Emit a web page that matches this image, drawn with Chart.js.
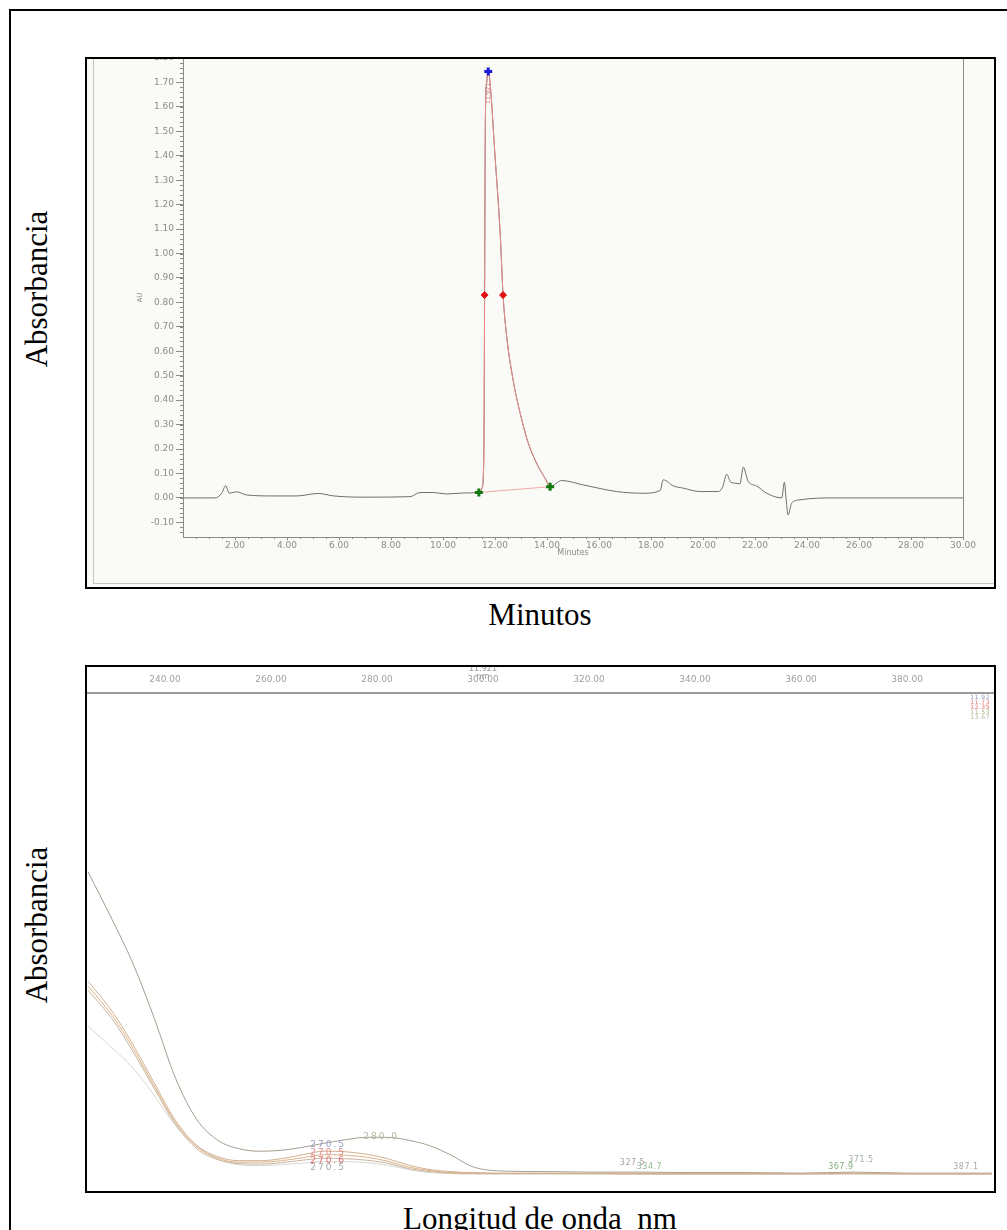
<!DOCTYPE html>
<html>
<head>
<meta charset="utf-8">
<script src="https://cdn.jsdelivr.net/npm/chart.js@4.4.1/dist/chart.umd.min.js"></script>
<style>
  body { margin: 0; width: 1007px; height: 1230px; overflow: hidden; background: #fff; position: relative; font-family: "Liberation Serif", serif; }
  .frame { position: absolute; left: 9px; top: 9px; width: 1020px; height: 1300px; border-left: 2px solid #000; border-top: 2px solid #000; }
  .box { position: absolute; border: 2px solid #000; box-sizing: border-box; pointer-events: none; }
  canvas { position: absolute; }
  .inner { position: absolute; border-left: 1px solid #c4c4c0; border-bottom: 1px solid #c4c4c0; }
  .txt { position: absolute; font-size: 31px; color: #000; white-space: pre; transform: translate(-50%, -50%); }
  .vtxt { position: absolute; font-size: 31px; color: #000; white-space: pre; transform: translate(-50%, -50%) rotate(-90deg); }
</style>
</head>
<body>
<div class="frame"></div>

<canvas id="chrom" width="911" height="532" style="left:85px; top:57px; background:#fafaf6;"></canvas>
<div class="inner" style="left:93px; top:59px; width:900px; height:524px;"></div>
<div class="box" style="left:85px; top:57px; width:911px; height:532px;"></div>

<canvas id="spectra" width="911" height="528" style="left:85px; top:665px; background:#fff;"></canvas>
<div class="box" style="left:85px; top:665px; width:911px; height:528px;"></div>

<div class="vtxt" style="left:37px; top:289px;">Absorbancia</div>
<div class="txt" style="left:540px; top:615px;">Minutos</div>
<div class="vtxt" style="left:37px; top:925px;">Absorbancia</div>
<div class="txt" style="left:540px; top:1219px;">Longitud de onda  nm</div>

<script>
"use strict";

// ---- chromatogram (top) ----
const chromTime = [0.00, 1.23, 1.49, 1.64, 1.78, 2.06, 2.45, 3.47, 4.37, 5.20, 5.80, 6.93, 8.73, 9.12, 9.63, 10.14, 10.78,
    11.38, 11.50, 11.55, 11.58, 11.60, 11.63, 11.68, 11.74, 11.80, 12.00, 12.20, 12.31, 12.45, 12.70, 12.96, 13.28, 13.60, 13.92, 14.12,
    14.56, 15.40, 16.68, 17.70, 18.35, 18.47, 18.86, 19.24, 19.88, 20.59, 20.76, 20.91, 21.07, 21.27, 21.42, 21.55, 21.74, 22.06, 22.45,
    23.03, 23.13, 23.20, 23.27, 23.41, 23.73, 25.00, 30.00];
const chromAu = [0.000, 0.000, 0.019, 0.050, 0.019, 0.025, 0.012, 0.008, 0.008, 0.018, 0.008, 0.003, 0.005, 0.022, 0.022, 0.016, 0.020,
    0.022, 0.040, 0.090, 0.300, 0.830, 1.550, 1.700, 1.745, 1.710, 1.400, 1.080, 0.830, 0.660, 0.480, 0.350, 0.224, 0.142, 0.081, 0.046,
    0.071, 0.053, 0.026, 0.019, 0.030, 0.074, 0.049, 0.040, 0.026, 0.026, 0.046, 0.097, 0.064, 0.060, 0.057, 0.126, 0.067, 0.049, 0.019,
    0.000, 0.064, -0.008, -0.070, -0.022, -0.008, 0.000, 0.000];
const peakStart = 11.38;
const peakEnd = 14.12;
const baseMarkTime = [11.38, 14.12];
const baseMarkAu = [0.022, 0.046];
const halfMarkTime = [11.60, 12.31];
const halfMarkAu = [0.83, 0.83];
const apexTime = [11.74];
const apexAu = [1.745];
const apexLabel = ["11.921"];
const timeTicks = [2, 4, 6, 8, 10, 12, 14, 16, 18, 20, 22, 24, 26, 28, 30];
const auTicks = [-0.10, 0.00, 0.10, 0.20, 0.30, 0.40, 0.50, 0.60, 0.70, 0.80, 0.90, 1.00, 1.10, 1.20, 1.30, 1.40, 1.50, 1.60, 1.70, 1.80];

// ---- UV spectra (bottom) ----
const wavelengths = [225.5, 230, 234, 238, 242, 246, 250, 254, 258, 262, 266, 270, 274, 278, 282, 286, 290, 294, 298, 304, 312, 320, 330, 340, 350, 360, 370, 380, 390, 396];
const spec1192 = [0.420, 0.360, 0.292, 0.215, 0.140, 0.090, 0.067, 0.059, 0.059, 0.063, 0.071, 0.078, 0.077, 0.072, 0.063, 0.050, 0.041, 0.037, 0.035, 0.034, 0.034, 0.034, 0.034, 0.033, 0.033, 0.033, 0.034, 0.033, 0.033, 0.033];
const spec1173 = [0.410, 0.352, 0.285, 0.209, 0.136, 0.087, 0.064, 0.056, 0.056, 0.059, 0.065, 0.071, 0.070, 0.066, 0.058, 0.046, 0.039, 0.035, 0.034, 0.033, 0.033, 0.033, 0.033, 0.033, 0.033, 0.033, 0.033, 0.033, 0.033, 0.033];
const spec1235 = [0.402, 0.345, 0.278, 0.204, 0.132, 0.083, 0.061, 0.053, 0.052, 0.055, 0.060, 0.064, 0.063, 0.060, 0.054, 0.043, 0.037, 0.034, 0.033, 0.033, 0.033, 0.033, 0.032, 0.032, 0.032, 0.032, 0.033, 0.032, 0.032, 0.032];
const spec1153 = [0.330, 0.286, 0.245, 0.190, 0.130, 0.088, 0.062, 0.051, 0.049, 0.051, 0.054, 0.057, 0.057, 0.055, 0.050, 0.041, 0.035, 0.033, 0.032, 0.032, 0.032, 0.032, 0.032, 0.032, 0.032, 0.032, 0.032, 0.032, 0.032, 0.032];
const spec1367 = [0.640, 0.545, 0.455, 0.345, 0.225, 0.142, 0.100, 0.083, 0.078, 0.080, 0.086, 0.094, 0.101, 0.106, 0.106, 0.100, 0.089, 0.070, 0.047, 0.038, 0.037, 0.036, 0.036, 0.035, 0.035, 0.034, 0.036, 0.034, 0.034, 0.034];
const specLabels = ["11.92", "11.73", "12.35", "11.53", "13.67"];
const specLineColors = ["#d2b090", "#ddb286", "#c8b29c", "#d6d6d2", "#a89c90"];
const specTextColors = ["#8e9ac0", "#e08080", "#e06a6a", "#a8b880", "#b0b8a0"];
const nmTicks = [240, 260, 280, 300, 320, 340, 360, 380];
const nmTitle = ["11.921", "nm"];
const nmTitleAt = 300;

const bumpLabelNm = [267.4, 267.4, 267.4, 267.4, 277.4];
const bumpLabelAbs = [0.0905, 0.0744, 0.0583, 0.0443, 0.107];
const bumpLabelText = ["270.5", "270.5", "270.6", "270.5", "280.0"];
const bumpLabelColor = ["#8f9fc0", "#e08a8a", "#e07070", "#a0a8a8", "#b0b8a0"];
const tailLabelNm = [325.8, 329.0, 368.9, 365.1, 388.7];
const tailLabelAbs = [0.055, 0.046, 0.060, 0.046, 0.046];
const tailLabelText = ["327.5", "334.7", "371.5", "367.9", "387.1"];
const tailLabelColor = ["#b0a0a0", "#90b890", "#a0b0a0", "#80b080", "#a8a8a8"];

const xy = (xs, ys) => xs.map((v, i) => ({ x: v, y: ys[i] }));
const tickFont = { family: "DejaVu Sans", size: 9 };
const noEdgePadding = s => { s.paddingTop = 0; s.paddingBottom = 0; s.paddingLeft = 0; s.paddingRight = 0; };

// frame around the plot + small minor ticks
const framePlugin = {
    id: 'frame',
    afterDraw(chart, args, opts) {
        if (!opts.show) return;
        const { ctx, chartArea: a, scales } = chart;
        ctx.save();
        ctx.strokeStyle = "#8a8a8a";
        ctx.lineWidth = 1;
        ctx.strokeRect(a.left + 0.5, a.top + 0.5, a.right - a.left, a.bottom - a.top);
        ctx.beginPath();
        for (let t = 0.5; t < 30; t += 0.5) {
            const px = Math.round(scales.x.getPixelForValue(t)) + 0.5;
            ctx.moveTo(px, a.bottom);
            ctx.lineTo(px, a.bottom + 2);
        }
        for (let v = -0.14; v < 1.8; v += 0.02) {
            const py = Math.round(scales.y.getPixelForValue(v)) + 0.5;
            ctx.moveTo(a.left, py);
            ctx.lineTo(a.left - 3, py);
        }
        ctx.stroke();
        // retention time label at the apex
        ctx.translate(scales.x.getPixelForValue(apexTime[0]), scales.y.getPixelForValue(apexAu[0]) + 22);
        ctx.rotate(-Math.PI / 2);
        ctx.font = '6px "DejaVu Sans"';
        ctx.fillStyle = "#d07a7a";
        ctx.textAlign = "center";
        ctx.textBaseline = "middle";
        ctx.fillText(apexLabel[0], 0, 0);
        ctx.restore();
    }
};

const peakPts = xy(chromTime, chromAu).filter(p => p.x >= peakStart && p.x <= peakEnd);

new Chart(document.getElementById('chrom').getContext('2d'), {
    type: 'line',
    data: {
        datasets: [
            { data: xy(apexTime, apexAu), showLine: false, pointStyle: 'cross', pointRadius: 4, pointBorderWidth: 3, pointBorderColor: "#1a1ae0", pointBackgroundColor: "#1a1ae0" },
            { data: xy(halfMarkTime, halfMarkAu), showLine: false, pointStyle: 'rectRot', pointRadius: 3.5, pointBorderWidth: 1, pointBorderColor: "#e01010", pointBackgroundColor: "#e01010" },
            { data: xy(baseMarkTime, baseMarkAu), showLine: false, pointStyle: 'cross', pointRadius: 4, pointBorderWidth: 3, pointBorderColor: "#107a10", pointBackgroundColor: "#107a10" },
            { data: peakPts, borderColor: "#e98a8a", borderWidth: 1, pointRadius: 0, cubicInterpolationMode: 'monotone' },
            { data: xy(baseMarkTime, baseMarkAu), borderColor: "#f0a8a8", borderWidth: 1, pointRadius: 0 },
            { data: xy(chromTime, chromAu), borderColor: "#6e6e6e", borderWidth: 1, pointRadius: 0, cubicInterpolationMode: 'monotone' }
        ]
    },
    options: {
        responsive: false,
        animation: false,
        events: [],
        layout: { autoPadding: false, padding: { top: 1, right: 33, left: 0, bottom: 0 } },
        scales: {
            x: {
                type: 'linear', min: 0, max: 30,
                afterFit: s => { s.height = 52; noEdgePadding(s); },
                afterBuildTicks: s => { s.ticks = timeTicks.map(v => ({ value: v })); },
                grid: { drawOnChartArea: false, tickLength: 3, color: "#8a8a8a" },
                border: { color: "#8a8a8a" },
                ticks: { font: tickFont, color: "#8c8c8c", padding: 0, maxRotation: 0, callback: v => v.toFixed(2) },
                title: { display: true, text: "Minutes", font: { family: "DejaVu Sans", size: 8 }, color: "#8c8c8c", padding: { top: 0, bottom: 31 } }
            },
            y: {
                min: -0.16, max: 1.80,
                afterFit: s => { s.width = 98; noEdgePadding(s); },
                afterBuildTicks: s => { s.ticks = auTicks.map(v => ({ value: v })); },
                grid: { drawOnChartArea: false, tickLength: 7, color: "#8a8a8a" },
                border: { color: "#8a8a8a" },
                ticks: { font: tickFont, color: "#8c8c8c", padding: 2, callback: v => v.toFixed(2) },
                title: { display: true, text: "AU", font: { family: "DejaVu Sans", size: 7 }, color: "#8c8c8c", padding: { top: 51, bottom: 0 } }
            }
        },
        plugins: { legend: { display: false }, tooltip: { enabled: false }, frame: { show: true } }
    },
    plugins: [framePlugin]
});

// peak labels, legend texts and axis title of the spectra
const spectrumTextPlugin = {
    id: 'spectrumText',
    afterDatasetsDraw(chart) {
        const { ctx, chartArea: a, scales: { x, y } } = chart;
        ctx.save();
        ctx.textBaseline = 'middle';
        ctx.textAlign = 'left';
        ctx.font = '9px "DejaVu Sans"';
        ctx.letterSpacing = '2px';
        bumpLabelText.forEach((t, i) => {
            ctx.fillStyle = bumpLabelColor[i];
            ctx.fillText(t, x.getPixelForValue(bumpLabelNm[i]), y.getPixelForValue(bumpLabelAbs[i]));
        });
        ctx.font = '8px "DejaVu Sans"';
        ctx.letterSpacing = '0.5px';
        tailLabelText.forEach((t, i) => {
            ctx.fillStyle = tailLabelColor[i];
            ctx.fillText(t, x.getPixelForValue(tailLabelNm[i]), y.getPixelForValue(tailLabelAbs[i]));
        });
        ctx.textAlign = 'right';
        ctx.font = '6px "DejaVu Sans"';
        chart.data.datasets.forEach((ds, i) => {
            ctx.fillStyle = specTextColors[i];
            ctx.fillText(ds.label, a.right - 3, a.top + 4 + i * 5);
        });
        ctx.textAlign = 'center';
        ctx.letterSpacing = '0px';
        ctx.font = '8px "DejaVu Sans"';
        ctx.fillStyle = "#9a9a9a";
        const tx = x.getPixelForValue(nmTitleAt);
        ctx.fillText(nmTitle[0], tx, a.top - 24);
        ctx.fillText(nmTitle[1], tx, a.top - 16);
        ctx.restore();
    }
};

const specSeries = [spec1192, spec1173, spec1235, spec1153, spec1367];

new Chart(document.getElementById('spectra').getContext('2d'), {
    type: 'line',
    data: {
        datasets: specSeries.map((s, i) => ({
            label: specLabels[i],
            data: xy(wavelengths, s),
            borderColor: specLineColors[i],
            borderWidth: 1,
            pointRadius: 0,
            cubicInterpolationMode: 'monotone'
        }))
    },
    options: {
        responsive: false,
        animation: false,
        events: [],
        layout: { autoPadding: false, padding: { top: 0, right: 3, left: 2, bottom: 3 } },
        scales: {
            x: {
                type: 'linear', position: 'top', min: 225.3, max: 396.2,
                afterFit: s => { s.height = 28; noEdgePadding(s); },
                afterBuildTicks: s => { s.ticks = nmTicks.map(v => ({ value: v })); },
                grid: { drawOnChartArea: false, drawTicks: false },
                border: { color: "#9a9a9a", width: 2 },
                ticks: { font: tickFont, color: "#a0a0a0", padding: 8, maxRotation: 0, callback: v => v.toFixed(2) }
            },
            y: { display: false, min: 0, max: 1 }
        },
        plugins: { legend: { display: false }, tooltip: { enabled: false } }
    },
    plugins: [spectrumTextPlugin]
});
</script>
</body>
</html>
